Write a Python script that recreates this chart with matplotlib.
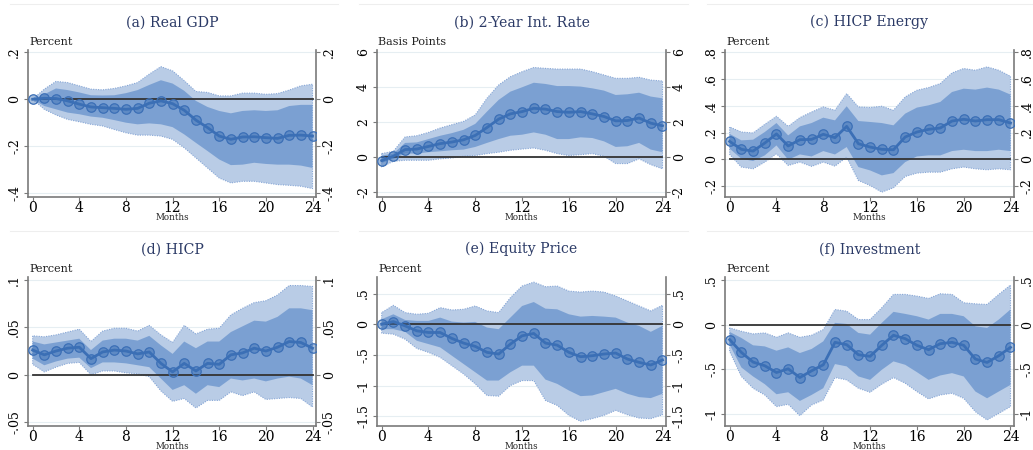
import matplotlib
matplotlib.use("Agg")
import matplotlib.pyplot as plt
import numpy as np
from matplotlib.lines import Line2D

plt.rcParams['font.family'] = ['DejaVu Serif']

months = list(range(25))
xticks = [0, 4, 8, 12, 16, 20, 24]

# (a) Real GDP
gdp_pt = [0, .004, .003, -.007, -.021, -.033, -.036, -.039, -.043, -.039, -.017, -.007, -.019,
          -.047, -.089, -.121, -.157, -.171, -.161, -.160, -.164, -.167, -.154, -.153, -.157]
gdp_in_hi = [0, .021, .046, .039, .029, .017, .016, .017, .026, .039, .061, .081, .067,
             .036, -.007, -.033, -.050, -.060, -.050, -.047, -.050, -.047, -.029, -.024, -.024]
gdp_in_lo = [0, -.029, -.043, -.057, -.064, -.074, -.079, -.089, -.100, -.107, -.103, -.107, -.119,
             -.150, -.186, -.221, -.257, -.281, -.279, -.271, -.276, -.279, -.279, -.283, -.293]
gdp_out_hi = [0, .043, .076, .071, .057, .043, .040, .046, .057, .071, .107, .139, .121,
              .079, .033, .029, .014, .014, .026, .026, .021, .024, .039, .057, .064]
gdp_out_lo = [0, -.043, -.067, -.086, -.096, -.107, -.114, -.129, -.143, -.153, -.153, -.157, -.171,
              -.207, -.250, -.293, -.336, -.357, -.350, -.350, -.357, -.364, -.367, -.371, -.381]

# (b) 2-Year Int. Rate
ir_pt = [-.21, .04, .42, .45, .60, .76, .85, .98, 1.23, 1.68, 2.16, 2.46, 2.59,
         2.78, 2.73, 2.59, 2.55, 2.59, 2.46, 2.31, 2.06, 2.08, 2.22, 1.93, 1.78]
ir_in_hi = [.08, .19, .80, .83, 1.02, 1.21, 1.36, 1.55, 1.89, 2.59, 3.26, 3.73, 3.98,
            4.24, 4.17, 4.05, 4.05, 4.02, 3.92, 3.79, 3.54, 3.58, 3.67, 3.45, 3.35]
ir_in_lo = [-.34, -.11, .19, .19, .27, .32, .38, .42, .57, .80, 1.02, 1.21, 1.27,
            1.40, 1.27, 1.02, 1.02, 1.12, 1.08, .89, .57, .61, .80, .42, .27]
ir_out_hi = [.19, .32, 1.14, 1.21, 1.40, 1.65, 1.84, 2.03, 2.40, 3.35, 4.11, 4.58, 4.87,
             5.11, 5.06, 5.02, 5.02, 5.02, 4.87, 4.68, 4.49, 4.49, 4.55, 4.39, 4.34]
ir_out_lo = [-.57, -.25, -.19, -.19, -.19, -.11, -.06, .04, .08, .19, .27, .38, .45,
             .51, .38, .19, .08, .13, .19, .04, -.38, -.38, -.11, -.44, -.68]

# (c) HICP Energy
en_pt = [.134, .075, .062, .122, .190, .100, .147, .149, .187, .162, .246, .117, .092,
         .075, .072, .167, .204, .224, .234, .286, .299, .286, .296, .296, .271]
en_in_hi = [.190, .142, .147, .204, .271, .179, .246, .271, .311, .291, .396, .286, .279,
            .271, .254, .341, .386, .403, .428, .502, .527, .520, .535, .520, .483]
en_in_lo = [.080, .005, -.012, .030, .104, -.002, .037, .022, .062, .037, .092, -.057, -.082,
            -.119, -.102, -.020, .022, .030, .030, .062, .072, .062, .062, .072, .062]
en_out_hi = [.241, .204, .197, .261, .321, .246, .311, .353, .391, .366, .490, .391, .386,
             .396, .366, .465, .515, .535, .565, .644, .677, .664, .689, .664, .619]
en_out_lo = [.037, -.057, -.070, -.020, .042, -.045, -.020, -.052, -.020, -.050, .017, -.157, -.194,
             -.244, -.211, -.127, -.102, -.095, -.095, -.070, -.057, -.070, -.077, -.070, -.077]

# (d) HICP
hicp_pt = [.026, .021, .025, .028, .029, .017, .024, .026, .025, .022, .024, .012, .003,
           .012, .004, .012, .011, .021, .023, .028, .025, .029, .035, .034, .028]
hicp_in_hi = [.035, .032, .034, .036, .038, .026, .036, .038, .038, .036, .041, .031, .022,
              .035, .028, .035, .035, .045, .051, .057, .056, .061, .070, .070, .068]
hicp_in_lo = [.017, .010, .014, .017, .018, .007, .013, .013, .012, .010, .008, -.004, -.016,
              -.011, -.020, -.011, -.013, -.004, -.006, -.004, -.007, -.004, -.002, -.004, -.011]
hicp_out_hi = [.041, .040, .042, .045, .048, .035, .046, .049, .049, .046, .052, .042, .034,
               .052, .043, .048, .049, .063, .070, .076, .078, .084, .094, .094, .093]
hicp_out_lo = [.011, .003, .008, .012, .013, .000, .004, .004, .002, .001, -.002, -.017, -.028,
               -.025, -.035, -.027, -.027, -.018, -.022, -.018, -.026, -.025, -.024, -.025, -.034]

# (e) Equity Price
eq_pt = [0, .043, -.027, -.108, -.135, -.135, -.232, -.308, -.362, -.459, -.486, -.324, -.189,
         -.151, -.308, -.341, -.459, -.530, -.514, -.486, -.470, -.568, -.622, -.665, -.584]
eq_in_hi = [.081, .162, .070, .054, .054, .108, .043, .027, .038, -.054, -.081, .108, .297,
            .362, .254, .243, .162, .124, .135, .124, .108, .027, -.027, -.124, -.027]
eq_in_lo = [-.081, -.081, -.124, -.270, -.324, -.378, -.514, -.649, -.784, -.919, -.919, -.784, -.676,
            -.676, -.903, -.973, -1.081, -1.173, -1.162, -1.108, -1.054, -1.135, -1.189, -1.205, -1.135]
eq_out_hi = [.189, .308, .189, .162, .178, .270, .232, .243, .297, .216, .189, .432, .622,
             .686, .611, .622, .540, .524, .540, .524, .459, .378, .297, .216, .308]
eq_out_lo = [-.146, -.162, -.243, -.395, -.459, -.540, -.676, -.811, -.973, -1.162, -1.173, -1.000, -.919,
             -.919, -1.243, -1.324, -1.486, -1.584, -1.540, -1.486, -1.405, -1.476, -1.530, -1.540, -1.476]

# (f) Investment
inv_pt = [-.168, -.310, -.418, -.459, -.534, -.493, -.590, -.515, -.448, -.198, -.224, -.336, -.354,
          -.231, -.119, -.157, -.231, -.280, -.213, -.198, -.231, -.384, -.422, -.347, -.254]
inv_in_hi = [-.082, -.149, -.231, -.243, -.291, -.254, -.317, -.272, -.187, .019, .007, -.093, -.112,
             .019, .142, .119, .093, .056, .119, .119, .093, -.019, -.037, .056, .168]
inv_in_lo = [-.224, -.478, -.578, -.664, -.776, -.754, -.851, -.784, -.709, -.440, -.466, -.578, -.616,
             -.504, -.410, -.448, -.530, -.616, -.567, -.541, -.578, -.746, -.821, -.746, -.672]
inv_out_hi = [-.037, -.075, -.104, -.093, -.142, -.093, -.142, -.119, -.056, .168, .149, .056, .056,
              .187, .336, .336, .317, .291, .343, .336, .243, .231, .224, .336, .440]
inv_out_lo = [-.299, -.578, -.709, -.784, -.914, -.888, -1.015, -.896, -.840, -.590, -.616, -.709, -.754,
              -.664, -.590, -.653, -.746, -.828, -.784, -.765, -.821, -.970, -1.063, -.989, -.914]

titles = ["(a) Real GDP", "(b) 2-Year Int. Rate", "(c) HICP Energy",
          "(d) HICP", "(e) Equity Price", "(f) Investment"]
units = ["Percent", "Basis Points", "Percent", "Percent", "Percent", "Percent"]
yticks = [[-.4, -.2, 0, .2], [-2, 0, 2, 4, 6], [-.2, 0, .2, .4, .6, .8],
          [-.05, 0, .05, .1], [-1.5, -1, -.5, 0, .5], [-1, -.5, 0, .5]]
ytick_labels = [["-.4", "-.2", "0", ".2"], ["-2", "0", "2", "4", "6"],
                ["-.2", "0", ".2", ".4", ".6", ".8"], ["-.05", "0", ".05", ".1"],
                ["-1.5", "-1", "-.5", "0", ".5"], ["-1", "-.5", "0", ".5"]]
ylims = [(-0.417, 0.21), (-2.29, 6.11), (-0.28, 0.815),
         (-0.054, 0.103), (-1.66, 0.77), (-1.13, 0.53)]

series = [
    (gdp_pt, gdp_in_lo, gdp_in_hi, gdp_out_lo, gdp_out_hi),
    (ir_pt, ir_in_lo, ir_in_hi, ir_out_lo, ir_out_hi),
    (en_pt, en_in_lo, en_in_hi, en_out_lo, en_out_hi),
    (hicp_pt, hicp_in_lo, hicp_in_hi, hicp_out_lo, hicp_out_hi),
    (eq_pt, eq_in_lo, eq_in_hi, eq_out_lo, eq_out_hi),
    (inv_pt, inv_in_lo, inv_in_hi, inv_out_lo, inv_out_hi),
]

W, H = 1033, 450
fig = plt.figure(figsize=(W / 100, H / 100), dpi=100)
fig.patch.set_facecolor("white")

col_lr = [(28, 316), (377, 666), (725, 1014)]
row_tb = [(50, 197), (277, 426)]

OUTER = "#b9cce6"
INNER = "#7199cf"
LINE = "#3b6fb6"
BORDER = "#86a6d6"
TITLE_C = "#2b3a66"
SPINE = "#7a7a7a"

for i in range(6):
    r, c = divmod(i, 3)
    l, rr = col_lr[c]
    t, b = row_tb[r]
    ax = fig.add_axes([l / W, 1 - b / H, (rr - l) / W, (b - t) / H])
    pt, ilo, ihi, olo, ohi = series[i]

    ax.fill_between(months, olo, ohi, facecolor=OUTER, edgecolor=BORDER,
                    linestyle=(0, (1, 1.2)), linewidth=0.8, zorder=1)
    ax.fill_between(months, ilo, ihi, facecolor=INNER, edgecolor="none",
                    alpha=0.85, zorder=2)
    ax.plot([0, 24], [0, 0], color="#333333", linewidth=1.3, zorder=3)
    ax.plot(months, pt, color=LINE, linewidth=2.0, zorder=4)
    ax.plot(months, pt, linestyle="none", marker="o", markersize=6.8,
            markerfacecolor=(0.23, 0.44, 0.71, 0.45), markeredgecolor=LINE,
            markeredgewidth=0.9, zorder=5)

    ax.set_xlim(-0.4, 24.3)
    ax.set_ylim(*ylims[i])
    ax.set_xticks(xticks)
    ax.set_xticklabels([str(v) for v in xticks], fontsize=10)
    ax.set_yticks(yticks[i])
    ax.set_yticklabels(ytick_labels[i], rotation=90, va="center", fontsize=9)
    ax.tick_params(axis="y", which="both", left=True, right=True,
                   labelleft=True, labelright=True, length=3, width=0.8,
                   color=SPINE, pad=2)
    ax.tick_params(axis="x", length=3, width=0.8, color=SPINE, pad=0)
    for lab in ax.get_yticklabels():
        lab.set_rotation(90)
    ax.grid(axis="y", color="#e6eef2", linewidth=0.8, zorder=0)
    ax.set_axisbelow(True)
    ax.spines["top"].set_visible(False)
    for s in ["left", "right", "bottom"]:
        ax.spines[s].set_color(SPINE)
        ax.spines[s].set_linewidth(1.2)

    ax.annotate("Months", xy=(0.5, 0), xycoords="axes fraction",
                xytext=(0, -15), textcoords="offset points",
                ha="center", va="center", fontsize=6.3, color="#222222")
    ax.set_title(titles[i], fontsize=10.2, color=TITLE_C, pad=17)
    ax.text(0.005, 1.02, units[i], transform=ax.transAxes, fontsize=8,
            ha="left", va="bottom", color="#222222")

    # faint separator line above each panel
    ytop = 4 if r == 0 else 231
    fig.add_artist(Line2D([(l - 18) / W, (rr + 22) / W], [1 - ytop / H, 1 - ytop / H],
                          color="#eeeeee", linewidth=0.8))

fig.savefig("out.png", dpi=100, facecolor="white")
